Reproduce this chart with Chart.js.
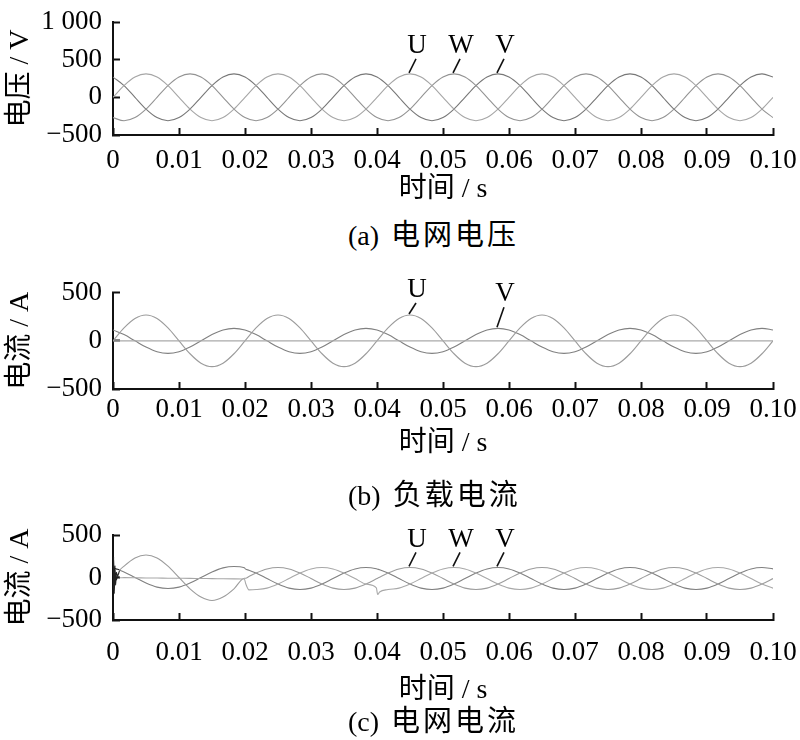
<!DOCTYPE html>
<html>
<head>
<meta charset="utf-8">
<script src="https://cdn.jsdelivr.net/npm/chart.js@4.4.1/dist/chart.umd.min.js"></script>
<style>
  html, body { margin: 0; padding: 0; background: #fff; }
  #wrap { position: relative; width: 800px; height: 740px; overflow: hidden; }
  canvas { position: absolute; left: 0; }
  .cap { position: absolute; left: 348px; height: 36px; line-height: 36px; white-space: nowrap; color: #000;
         font-family: 'Liberation Serif', 'Times New Roman', serif; font-size: 28px; }
  .cap .cjk { font-family: 'Noto Sans CJK SC', sans-serif; font-size: 29px; letter-spacing: 3px; margin-left: 12px; }
</style>
</head>
<body>
<div id="wrap">
  <canvas id="chartA" width="800" height="210" style="top:0px"></canvas>
  <canvas id="chartB" width="800" height="210" style="top:255px"></canvas>
  <canvas id="chartC" width="800" height="210" style="top:510px"></canvas>
  <div class="cap" style="top:214px">(a)<span class="cjk">电网电压</span></div>
  <div class="cap" style="top:474px">(b)<span class="cjk">负载电流</span></div>
  <div class="cap" style="top:700px">(c)<span class="cjk">电网电流</span></div>
</div>
<script>
// ---------------- data ----------------
const xTickLabels = ['0', '0.01', '0.02', '0.03', '0.04', '0.05', '0.06', '0.07', '0.08', '0.09', '0.10'];
const yTickValsA = [-500, 0, 500, 1000];
const yTickTextA = ['\u2212500', '0', '500', '1 000'];
const yTickValsBC = [-500, 0, 500];
const yTickTextBC = ['\u2212500', '0', '500'];

// time samples (s) for panels (a) and (b)
const timeAB = [0, 0.00167, 0.00333, 0.005, 0.00667, 0.00833, 0.01, 0.01167, 0.01333, 0.015, 0.01667, 0.01833,
  0.02, 0.02167, 0.02333, 0.025, 0.02667, 0.02833, 0.03, 0.03167, 0.03333, 0.035, 0.03667, 0.03833,
  0.04, 0.04167, 0.04333, 0.045, 0.04667, 0.04833, 0.05, 0.05167, 0.05333, 0.055, 0.05667, 0.05833,
  0.06, 0.06167, 0.06333, 0.065, 0.06667, 0.06833, 0.07, 0.07167, 0.07333, 0.075, 0.07667, 0.07833,
  0.08, 0.08167, 0.08333, 0.085, 0.08667, 0.08833, 0.09, 0.09167, 0.09333, 0.095, 0.09667, 0.09833, 0.1];

// (a) grid voltage, V
const gridVoltageU = [0, 156, 269, 311, 269, 156, 0, -156, -269, -311, -269, -156,
  0, 156, 269, 311, 269, 156, 0, -156, -269, -311, -269, -156,
  0, 156, 269, 311, 269, 156, 0, -156, -269, -311, -269, -156,
  0, 156, 269, 311, 269, 156, 0, -156, -269, -311, -269, -156,
  0, 156, 269, 311, 269, 156, 0, -156, -269, -311, -269, -156, 0];
const gridVoltageV = [269, 156, 0, -156, -269, -311, -269, -156, 0, 156, 269, 311,
  269, 156, 0, -156, -269, -311, -269, -156, 0, 156, 269, 311,
  269, 156, 0, -156, -269, -311, -269, -156, 0, 156, 269, 311,
  269, 156, 0, -156, -269, -311, -269, -156, 0, 156, 269, 311,
  269, 156, 0, -156, -269, -311, -269, -156, 0, 156, 269, 311, 269];
const gridVoltageW = [-269, -311, -269, -156, 0, 156, 269, 311, 269, 156, 0, -156,
  -269, -311, -269, -156, 0, 156, 269, 311, 269, 156, 0, -156,
  -269, -311, -269, -156, 0, 156, 269, 311, 269, 156, 0, -156,
  -269, -311, -269, -156, 0, 156, 269, 311, 269, 156, 0, -156,
  -269, -311, -269, -156, 0, 156, 269, 311, 269, 156, 0, -156, -269];

// (b) load current, A
const loadCurrentU = [0, 134, 232, 268, 232, 134, 0, -134, -232, -268, -232, -134,
  0, 134, 232, 268, 232, 134, 0, -134, -232, -268, -232, -134,
  0, 134, 232, 268, 232, 134, 0, -134, -232, -268, -232, -134,
  0, 134, 232, 268, 232, 134, 0, -134, -232, -268, -232, -134,
  0, 134, 232, 268, 232, 134, 0, -134, -232, -268, -232, -134, 0];
const loadCurrentV = [113, 65, 0, -65, -113, -130, -113, -65, 0, 65, 113, 130,
  113, 65, 0, -65, -113, -130, -113, -65, 0, 65, 113, 130,
  113, 65, 0, -65, -113, -130, -113, -65, 0, 65, 113, 130,
  113, 65, 0, -65, -113, -130, -113, -65, 0, 65, 113, 130,
  113, 65, 0, -65, -113, -130, -113, -65, 0, 65, 113, 130, 113];
const loadCurrentW = [0, 0, 0, 0, 0, 0, 0, 0, 0, 0, 0, 0, 0, 0, 0, 0, 0, 0, 0, 0, 0, 0, 0, 0, 0, 0, 0, 0, 0, 0,
  0, 0, 0, 0, 0, 0, 0, 0, 0, 0, 0, 0, 0, 0, 0, 0, 0, 0, 0, 0, 0, 0, 0, 0, 0, 0, 0, 0, 0, 0, 0];

// (c) grid current, A  (denser samples around the switching instants)
const timeC = [0, 0.0001, 0.0002, 0.0003, 0.0004, 0.0005, 0.0007, 0.001,
  0.00167, 0.00333, 0.005, 0.00667, 0.00833, 0.01, 0.01167, 0.01333, 0.015, 0.01667, 0.01833,
  0.0199, 0.0201, 0.0206,
  0.02167, 0.02333, 0.025, 0.02667, 0.02833, 0.03, 0.03167, 0.03333, 0.035, 0.03667, 0.03833,
  0.0399, 0.0401, 0.0404,
  0.04167, 0.04333, 0.045, 0.04667, 0.04833, 0.05, 0.05167, 0.05333, 0.055, 0.05667, 0.05833,
  0.06, 0.06167, 0.06333, 0.065, 0.06667, 0.06833, 0.07, 0.07167, 0.07333, 0.075, 0.07667, 0.07833,
  0.08, 0.08167, 0.08333, 0.085, 0.08667, 0.08833, 0.09, 0.09167, 0.09333, 0.095, 0.09667, 0.09833, 0.1];
const gridCurrentU = [0, 240, -190, 140, -90, 60, 20, 82,
  133, 230, 265, 230, 133, 0, -133, -230, -270, -230, -133,
  -8, -8, 12,
  53, 101, 118, 101, 53, -12, -77, -125, -142, -125, -77,
  -16, -8, 4,
  53, 101, 118, 101, 53, -12, -77, -125, -142, -125, -77,
  -12, 53, 101, 118, 101, 53, -12, -77, -125, -142, -125, -77,
  -12, 53, 101, 118, 101, 53, -12, -77, -125, -142, -125, -77, -12];
const gridCurrentV = [113, 111, 108, 106, 104, 101, 96, 87,
  65, 0, -65, -113, -130, -113, -65, 0, 65, 113, 130,
  115, 98, 86,
  53, -12, -77, -125, -142, -125, -77, -12, 53, 101, 118,
  103, 98, 92,
  53, -12, -77, -125, -142, -125, -77, -12, 53, 101, 118,
  101, 53, -12, -77, -125, -142, -125, -77, -12, 53, 101, 118,
  101, 53, -12, -77, -125, -142, -125, -77, -12, 53, 101, 118, 101];
const gridCurrentW = [0, -150, 120, -80, 50, -30, 10, -3,
  -2, -3, -5, -6, -8, -9, -10, -12, -13, -15, -16,
  -18, -70, -145,
  -142, -125, -77, -12, 53, 101, 118, 101, 53, -12, -77,
  -122, -200, -170,
  -142, -125, -77, -12, 53, 101, 118, 101, 53, -12, -77,
  -125, -142, -125, -77, -12, 53, 101, 118, 101, 53, -12, -77,
  -125, -142, -125, -77, -12, 53, 101, 118, 101, 53, -12, -77, -125];

// peak labels (phase name, time of the marked peak, value there)
const peakNamesA = ['U', 'W', 'V'];
const peakTimesA = [0.045, 0.05167, 0.05833];
const peakValsA = [311, 311, 311];
const peakNamesB = ['U', 'V'];
const peakTimesB = [0.045, 0.05833];
const peakValsB = [268, 130];
const peakNamesC = ['U', 'W', 'V'];
const peakTimesC = [0.045, 0.05167, 0.05833];
const peakValsC = [118, 118, 118];

// ---------------- drawing ----------------
const LATIN = "'Liberation Serif', 'Times New Roman', serif";
const MIXED = "'Liberation Serif', 'Noto Sans CJK SC', serif";
const TICK_FS = 27, TITLE_FS = 28;
const INK = '#111';

const peakLabelPlugin = {
  id: 'peakLabels',
  afterDatasetsDraw(chart, args, opts) {
    const items = opts.items || [];
    const {ctx} = chart;
    const xs = chart.scales.x, ys = chart.scales.y;
    ctx.save();
    ctx.strokeStyle = INK; ctx.fillStyle = '#000'; ctx.lineWidth = 1.6;
    ctx.font = TICK_FS + 'px ' + LATIN;
    ctx.textAlign = 'center'; ctx.textBaseline = 'middle';
    items.forEach(it => {
      const px = xs.getPixelForValue(it.t), py = ys.getPixelForValue(it.v);
      ctx.beginPath();
      ctx.moveTo(px - 1, py - 1);
      ctx.lineTo(px + 6, py - 1 - it.len);
      ctx.stroke();
      ctx.fillText(it.name, px + 7, py - it.len - 14);
    });
    ctx.restore();
  }
};

function buildChart(id, lay, labels, series, yMin, yMax, tickVals, tickText, yTitle, peaks) {
  const tickLH = TICK_FS * 1.2, titleLH = TITLE_FS * 1.2;
  const canvasBottom = lay.top + lay.h;
  new Chart(document.getElementById(id), {
    type: 'line',
    data: {
      labels: labels,
      datasets: series.map(s => ({
        data: s.data, borderColor: s.color, borderWidth: 1.1, pointRadius: 0,
        cubicInterpolationMode: 'monotone', fill: false, segment: s.segment || {}
      }))
    },
    options: {
      responsive: false, animation: false, devicePixelRatio: 1,
      layout: { padding: { top: lay.plotTop - lay.top, right: 27, left: 0, bottom: 0 } },
      plugins: { legend: { display: false }, tooltip: { enabled: false }, peakLabels: { items: peaks } },
      scales: {
        x: {
          type: 'linear', min: 0, max: 0.1,
          ticks: {
            stepSize: 0.01, autoSkip: false, maxRotation: 0, color: '#000',
            padding: lay.tickCenter - lay.plotBottom + 7 - tickLH / 2,
            font: { family: LATIN, size: TICK_FS },
            callback: v => xTickLabels[Math.round(v * 100)]
          },
          grid: { drawOnChartArea: false, tickLength: -7, tickColor: INK, tickWidth: 2 },
          border: { color: INK, width: 2 },
          title: { display: true, text: '时间 / s', color: '#000', font: { family: MIXED, size: TITLE_FS },
                   padding: { top: 0, bottom: canvasBottom - lay.titleCenter - titleLH / 2 } },
          afterFit: s => { s.height = canvasBottom - lay.plotBottom; s.paddingLeft = 0; s.paddingRight = 0; }
        },
        y: {
          min: yMin, max: yMax,
          ticks: {
            stepSize: 500, autoSkip: false, color: '#000', padding: 18,
            font: { family: LATIN, size: TICK_FS },
            callback: v => { const i = tickVals.indexOf(v); return i >= 0 ? tickText[i] : ''; }
          },
          grid: { drawOnChartArea: false, tickLength: -7, tickColor: INK, tickWidth: 2 },
          border: { color: INK, width: 2 },
          title: { display: true, text: yTitle, color: '#000', font: { family: MIXED, size: TITLE_FS },
                   padding: { top: 4, bottom: 0 } },
          afterFit: s => { s.width = 113; s.paddingTop = 0; s.paddingBottom = 0; }
        }
      }
    },
    plugins: [peakLabelPlugin]
  });
}

function peakItems(names, times, vals, lens) {
  return names.map((n, i) => ({ name: n, t: times[i], v: vals[i], len: lens[i] }));
}

buildChart('chartA', { top: 0, h: 210, plotTop: 22, plotBottom: 135, tickCenter: 161, titleCenter: 190 },
  timeAB,
  [ { data: gridVoltageU, color: '#a6a6a6' },
    { data: gridVoltageW, color: '#939393' },
    { data: gridVoltageV, color: '#777777' } ],
  -500, 1000, yTickValsA, yTickTextA, '电压 / V',
  peakItems(peakNamesA, peakTimesA, peakValsA, [14, 14, 14]));

buildChart('chartB', { top: 255, h: 210, plotTop: 292.7, plotBottom: 389, tickCenter: 410, titleCenter: 444 },
  timeAB,
  [ { data: loadCurrentW, color: '#aaaaaa' },
    { data: loadCurrentU, color: '#9c9c9c' },
    { data: loadCurrentV, color: '#808080' } ],
  -500, 500, yTickValsBC, yTickTextBC, '电流 / A',
  peakItems(peakNamesB, peakTimesB, peakValsB, [11, 20]));

const transientSeg = { borderColor: ctx => (ctx.p1.parsed.x <= 0.001 ? '#222' : undefined) };
buildChart('chartC', { top: 510, h: 210, plotTop: 535, plotBottom: 620, tickCenter: 653, titleCenter: 691 },
  timeC,
  [ { data: gridCurrentW, color: '#a8a8a8', segment: transientSeg },
    { data: gridCurrentU, color: '#9c9c9c', segment: transientSeg },
    { data: gridCurrentV, color: '#808080', segment: transientSeg } ],
  -500, 500, yTickValsBC, yTickTextBC, '电流 / A',
  peakItems(peakNamesC, peakTimesC, peakValsC, [14, 14, 14]));
</script>
</body>
</html>
